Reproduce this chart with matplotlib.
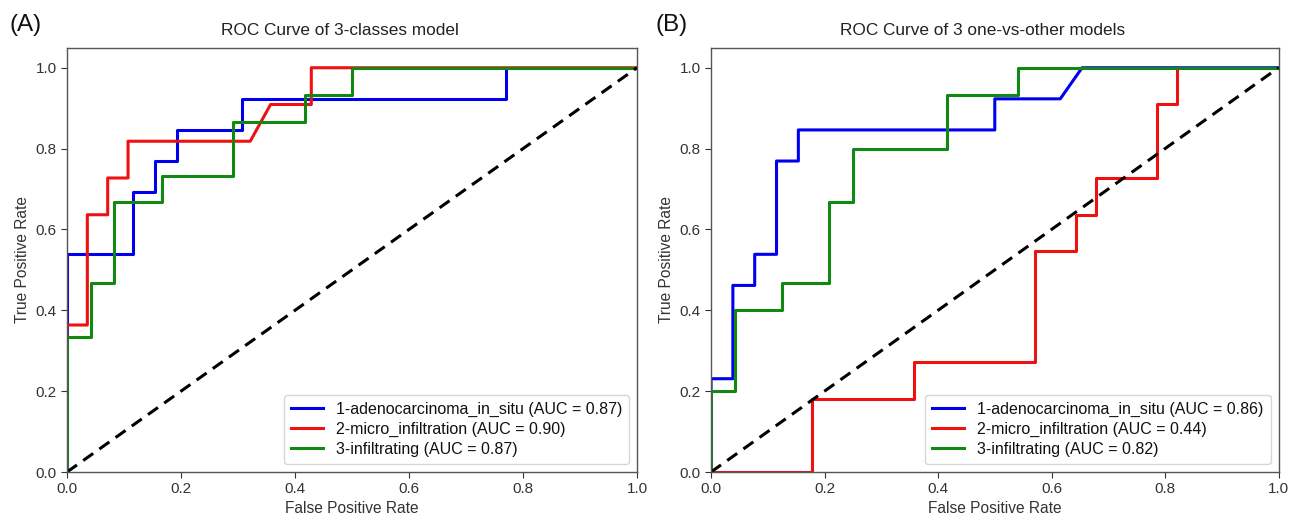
import matplotlib
matplotlib.use("Agg")
import matplotlib.pyplot as plt

plt.rcParams['font.family'] = ['Liberation Sans', 'DejaVu Sans']

# ---- Data: panel A (3-classes model) ----
a_labels = ["1-adenocarcinoma_in_situ (AUC = 0.87)",
            "2-micro_infiltration (AUC = 0.90)",
            "3-infiltrating (AUC = 0.87)"]
a1_fpr = [0, 0, 3/26, 3/26, 4/26, 4/26, 5/26, 5/26, 8/26, 8/26, 20/26, 20/26, 1]
a1_tpr = [0, 7/13, 7/13, 9/13, 9/13, 10/13, 10/13, 11/13, 11/13, 12/13, 12/13, 1, 1]
a2_fpr = [0, 0, 1/28, 1/28, 2/28, 2/28, 3/28, 3/28, 9/28, 10/28, 12/28, 12/28, 1]
a2_tpr = [0, 4/11, 4/11, 7/11, 7/11, 8/11, 8/11, 9/11, 9/11, 10/11, 10/11, 1, 1]
a3_fpr = [0, 0, 1/24, 1/24, 2/24, 2/24, 4/24, 4/24, 7/24, 7/24, 10/24, 10/24, 12/24, 12/24, 1]
a3_tpr = [0, 5/15, 5/15, 7/15, 7/15, 10/15, 10/15, 11/15, 11/15, 13/15, 13/15, 14/15, 14/15, 1, 1]

# ---- Data: panel B (3 one-vs-other models) ----
b_labels = ["1-adenocarcinoma_in_situ (AUC = 0.86)",
            "2-micro_infiltration (AUC = 0.44)",
            "3-infiltrating (AUC = 0.82)"]
b1_fpr = [0, 0, 1/26, 1/26, 2/26, 2/26, 3/26, 3/26, 4/26, 4/26, 13/26, 13/26, 16/26, 17/26, 1]
b1_tpr = [0, 3/13, 3/13, 6/13, 6/13, 7/13, 7/13, 10/13, 10/13, 11/13, 11/13, 12/13, 12/13, 1, 1]
b2_fpr = [0, 5/28, 5/28, 10/28, 10/28, 16/28, 16/28, 18/28, 18/28, 19/28, 19/28, 22/28, 22/28, 23/28, 23/28, 1]
b2_tpr = [0, 0, 2/11, 2/11, 3/11, 3/11, 6/11, 6/11, 7/11, 7/11, 8/11, 8/11, 10/11, 10/11, 1, 1]
b3_fpr = [0, 0, 1/24, 1/24, 3/24, 3/24, 5/24, 5/24, 6/24, 6/24, 10/24, 10/24, 13/24, 13/24, 1]
b3_tpr = [0, 3/15, 3/15, 6/15, 6/15, 7/15, 7/15, 10/15, 10/15, 12/15, 12/15, 14/15, 14/15, 1, 1]

titles = ["ROC Curve of 3-classes model", "ROC Curve of 3 one-vs-other models"]
panel_tags = ["(A)", "(B)"]
colors = ["#0000ee", "#ee1111", "#118811"]
ticks = [0.0, 0.2, 0.4, 0.6, 0.8, 1.0]

fig = plt.figure(figsize=(12.98, 5.2), dpi=100)
ax_a = fig.add_axes([0.0516, 0.0923, 0.4392, 0.8163])
ax_b = fig.add_axes([0.5478, 0.0923, 0.4372, 0.8163])

panels = [
    (ax_a, [(a1_fpr, a1_tpr), (a2_fpr, a2_tpr), (a3_fpr, a3_tpr)], a_labels),
    (ax_b, [(b1_fpr, b1_tpr), (b2_fpr, b2_tpr), (b3_fpr, b3_tpr)], b_labels),
]

text_col = "#333333"
for i, (ax, curves, labels) in enumerate(panels):
    for (f, t), c, lab in zip(curves, colors, labels):
        ax.plot(f, t, color=c, lw=2.2, label=lab)
    ax.plot([0, 1], [0, 1], color="black", lw=2.2, linestyle=(0, (4, 2.5)))
    ax.set_xlim(0, 1)
    ax.set_ylim(0, 1.05)
    ax.set_xticks(ticks)
    ax.set_yticks(ticks)
    ax.set_xticklabels([f"{v:.1f}" for v in ticks])
    ax.set_yticklabels([f"{v:.1f}" for v in ticks])
    ax.tick_params(labelsize=11, colors=text_col, length=4)
    ax.set_xlabel("False Positive Rate", fontsize=11.2, color=text_col, labelpad=3)
    ax.set_ylabel("True Positive Rate", fontsize=11.2, color=text_col, labelpad=4)
    ax.set_title(titles[i], fontsize=12.4, color="#222222", pad=9, x=0.478)
    for s in ax.spines.values():
        s.set_color("#555555")
        s.set_linewidth(1.0)
    leg = ax.legend(loc="lower right", fontsize=11.5, handlelength=2.0, frameon=True,
                    borderpad=0.45, labelspacing=0.3, handletextpad=0.8)
    for txt in leg.get_texts():
        txt.set_color("#111111")

fig.text(0.007, 0.952, panel_tags[0], fontsize=17.5, va="center", ha="left", color="#111111")
fig.text(0.505, 0.952, panel_tags[1], fontsize=17.5, va="center", ha="left", color="#111111")

fig.savefig("out.png", dpi=100)
